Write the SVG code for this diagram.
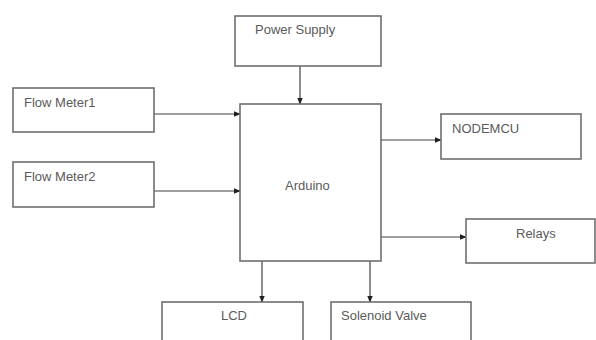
<svg xmlns="http://www.w3.org/2000/svg" width="596" height="340" viewBox="0 0 596 340">
<defs>
<style>
.box{fill:#fff;stroke:#6e6e6e;stroke-width:1.6}
.lbl{font-family:"Liberation Sans",Arial,sans-serif;font-size:13px;fill:#5a5a5a}
.con{stroke:#404040;stroke-width:1.2;fill:none;marker-end:url(#ah)}
</style>
<marker id="ah" viewBox="0 0 10 10" refX="9" refY="5" markerWidth="7" markerHeight="7" markerUnits="userSpaceOnUse" orient="auto">
<path d="M0,1 L10,5 L0,9 z" fill="#202020"/>
</marker>
</defs>
<rect width="596" height="340" fill="#fff"/>
<g id="connectors">
<line class="con" x1="300" y1="66" x2="300" y2="104"/>
<line class="con" x1="154" y1="114" x2="240" y2="114"/>
<line class="con" x1="154" y1="191" x2="240" y2="191"/>
<line class="con" x1="381" y1="140" x2="441" y2="140"/>
<line class="con" x1="381" y1="237" x2="466" y2="237"/>
<line class="con" x1="262" y1="261" x2="262" y2="302"/>
<line class="con" x1="370" y1="261" x2="370" y2="302"/>
</g>
<g id="power-supply">
<rect class="box" x="235" y="16" width="146" height="50"/>
<text class="lbl" x="255" y="34">Power Supply</text>
</g>
<g id="flow-meter1">
<rect class="box" x="13" y="88" width="141" height="44"/>
<text class="lbl" x="24" y="107">Flow Meter1</text>
</g>
<g id="flow-meter2">
<rect class="box" x="13" y="162" width="141" height="45"/>
<text class="lbl" x="24" y="181">Flow Meter2</text>
</g>
<g id="arduino">
<rect class="box" x="240" y="104" width="141" height="157"/>
<text class="lbl" x="285" y="190">Arduino</text>
</g>
<g id="nodemcu">
<rect class="box" x="441" y="114" width="140" height="45"/>
<text class="lbl" x="452" y="133">NODEMCU</text>
</g>
<g id="relays">
<rect class="box" x="466" y="219" width="129" height="44"/>
<text class="lbl" x="516" y="238">Relays</text>
</g>
<g id="lcd">
<rect class="box" x="162" y="302" width="141" height="50"/>
<text class="lbl" x="221" y="320">LCD</text>
</g>
<g id="solenoid-valve">
<rect class="box" x="331" y="302" width="140" height="50"/>
<text class="lbl" x="341" y="320">Solenoid Valve</text>
</g>
</svg>
